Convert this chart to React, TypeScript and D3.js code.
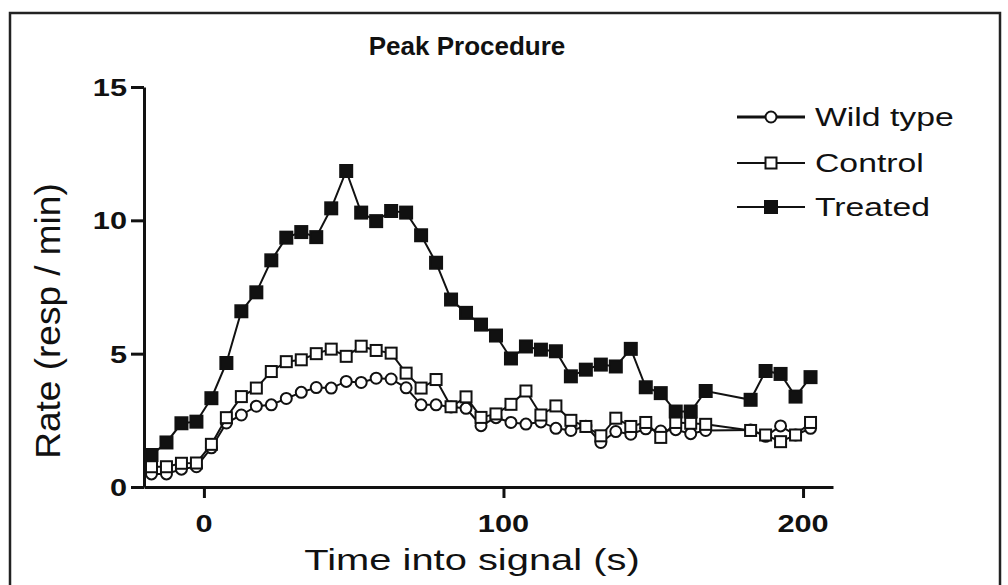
import React, { useEffect, useRef } from 'react';
import * as d3 from 'd3';

// time points (s) shared by all three series
const times = [
  -17.5, -12.5, -7.5, -2.5, 2.5, 7.5, 12.5, 17.5, 22.5, 27.5, 32.5, 37.5, 42.5, 47.5, 52.5,
  57.5, 62.5, 67.5, 72.5, 77.5, 82.5, 87.5, 92.5, 97.5, 102.5, 107.5, 112.5, 117.5, 122.5,
  127.5, 132.5, 137.5, 142.5, 147.5, 152.5, 157.5, 162.5, 167.5, 182.5, 187.5, 192.5, 197.5, 202.5,
];

const wildType = [
  0.49, 0.49, 0.67, 0.76, 1.47, 2.4, 2.7, 3.03, 3.08, 3.32, 3.55, 3.73, 3.71, 3.96, 3.92,
  4.08, 4.05, 3.72, 3.08, 3.08, 3.0, 2.95, 2.3, 2.6, 2.42, 2.36, 2.44, 2.2, 2.12,
  2.28, 1.67, 2.08, 1.98, 2.18, 2.1, 2.15, 2.0, 2.12, 2.14, 1.9, 2.29, 1.95, 2.2,
];

const control = [
  0.76, 0.76, 0.89, 0.9, 1.6, 2.6, 3.39, 3.71, 4.33, 4.7, 4.77, 5.0, 5.17, 4.9, 5.28,
  5.12, 5.02, 4.27, 3.71, 4.03, 3.01, 3.38, 2.61, 2.74, 3.1, 3.6, 2.7, 3.04, 2.5,
  2.27, 1.92, 2.58, 2.27, 2.42, 1.86, 2.42, 2.39, 2.35, 2.12, 1.95, 1.7, 1.95, 2.42,
];

const treated = [
  1.2, 1.67, 2.39, 2.45, 3.33, 4.65, 6.59, 7.3, 8.5, 9.35, 9.56, 9.37, 10.45, 11.85, 10.29,
  9.97, 10.35, 10.29, 9.44, 8.41, 7.03, 6.53, 6.09, 5.68, 4.82, 5.27, 5.15, 5.09, 4.15,
  4.4, 4.59, 4.52, 5.18, 3.74, 3.52, 2.83, 2.83, 3.6, 3.27, 4.35, 4.24, 3.39, 4.12,
];

const seriesNames = ['Wild type', 'Control', 'Treated'];
const xTicks = [0, 100, 200];
const yTicks = [0, 5, 10, 15];

const width = 1008;
const height = 585;
const font = "Arial, 'Liberation Sans', Helvetica, sans-serif";

const App = () => {
  const svgRef = useRef(null);

  useEffect(() => {
    const svg = d3.select(svgRef.current);
    svg.selectAll('*').remove();

    const x = d3.scaleLinear().domain([-20, 210]).range([144, 833]);
    const y = d3.scaleLinear().domain([0, 15]).range([487, 87]);

    // text looks stretched sideways in the picture, so each label gets its own x scale
    const label = (px, py, str, size, weight, anchor, sx, rotate = 0) =>
      svg.append('text')
        .attr('transform', `translate(${px},${py}) scale(${sx},1) rotate(${rotate})`)
        .attr('text-anchor', anchor)
        .attr('font-family', font)
        .attr('font-size', size)
        .attr('font-weight', weight)
        .attr('fill', '#111')
        .text(str);

    // frame
    svg.append('rect')
      .attr('x', 10).attr('y', 13)
      .attr('width', 990).attr('height', 600)
      .attr('fill', 'white')
      .attr('stroke', '#222')
      .attr('stroke-width', 2.5);

    label(467, 55, 'Peak Procedure', 25, 'bold', 'middle', 1.04);

    // axes
    const xAxis = svg.append('g')
      .attr('transform', `translate(0,${y(0)})`)
      .call(d3.axisBottom(x).tickValues(xTicks).tickSize(11).tickSizeOuter(0).tickFormat(() => ''));
    const yAxis = svg.append('g')
      .attr('transform', `translate(${x(-20)},0)`)
      .call(d3.axisLeft(y).tickValues(yTicks).tickSize(13).tickSizeOuter(0).tickFormat(() => ''));
    [xAxis, yAxis].forEach(a => {
      a.selectAll('path, line').attr('stroke', '#111').attr('stroke-width', 3);
    });

    xTicks.forEach(t => label(x(t), 532, String(t), 24, 'bold', 'middle', 1.28));
    yTicks.forEach(t => label(127, y(t) + 9, String(t), 24, 'bold', 'end', 1.28));

    label(472, 570, 'Time into signal (s)', 30, 'normal', 'middle', 1.33);
    label(60, 321, 'Rate (resp / min)', 37, 'normal', 'middle', 0.95, -90);

    // series
    const line = d3.line()
      .x(d => x(d[0]))
      .y(d => y(d[1]));

    const series = [
      { name: seriesNames[0], values: wildType, marker: 'circle', fill: 'white' },
      { name: seriesNames[1], values: control, marker: 'square', fill: 'white' },
      { name: seriesNames[2], values: treated, marker: 'square', fill: '#111' },
    ];

    const drawMarker = (g, cx, cy, s) => {
      if (s.marker === 'circle') {
        g.append('circle')
          .attr('cx', cx).attr('cy', cy).attr('r', 5.5)
          .attr('fill', s.fill).attr('stroke', '#111').attr('stroke-width', 2);
      } else {
        const size = s.fill === 'white' ? 11 : 12;
        g.append('rect')
          .attr('x', cx - size / 2).attr('y', cy - size / 2)
          .attr('width', size).attr('height', size)
          .attr('fill', s.fill).attr('stroke', '#111').attr('stroke-width', 2);
      }
    };

    series.forEach(s => {
      const pts = times.map((t, i) => [t, s.values[i]]);
      svg.append('path')
        .attr('d', line(pts))
        .attr('fill', 'none')
        .attr('stroke', '#111')
        .attr('stroke-width', 2);
      const g = svg.append('g');
      pts.forEach(p => drawMarker(g, x(p[0]), y(p[1]), s));
    });

    // legend
    const legendY = [117, 163, 207];
    series.forEach((s, i) => {
      svg.append('line')
        .attr('x1', 737).attr('x2', 805)
        .attr('y1', legendY[i]).attr('y2', legendY[i])
        .attr('stroke', '#111')
        .attr('stroke-width', i === 0 ? 3 : 2);
      drawMarker(svg, 771, legendY[i], s);
      label(815, legendY[i] + 9, s.name, 25, 'normal', 'start', 1.35);
    });
  }, []);

  return (
    <svg
      ref={svgRef}
      width={width}
      height={height}
      style={{ position: 'absolute', left: 0, top: 0, background: 'white' }}
    />
  );
};

export default App;
